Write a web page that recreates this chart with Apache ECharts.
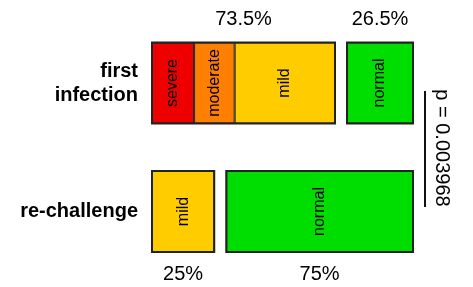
<!DOCTYPE html>
<html>
<head>
<meta charset="utf-8">
<script src="https://cdn.jsdelivr.net/npm/echarts@6/dist/echarts.min.js"></script>
<style>html,body{margin:0;padding:0;background:#fff}#c{width:473px;height:287px}</style>
</head>
<body>
<div id="c"></div>
<script>
// ---- data ----
var categories = ['first\ninfection', 're-challenge'];
var severe   = [16.9, null];
var moderate = [16.3, null];
var mild     = [40.3, 25];
var normal   = [26.5, 75];
var groupLabels = [
  // [startValue, endValue, categoryIndex, text, side]
  [0, 73.5, 0, '73.5%', 'top'],
  [73.5, 100, 0, '26.5%', 'top'],
  [0, 25, 1, '25%', 'bottom'],
  [25, 100, 1, '75%', 'bottom']
];
var pText = 'p = 0.003968';

// ---- styling / layout ----
var GAP = 4.82;  // visual gap between abnormal and normal groups (in axis units)
var BAR_W = 81;
var FONT = 'Liberation Sans, Arial, sans-serif';
var gapData = [GAP, GAP];

function barSeries(name, data, color) {
  return {
    name: name, type: 'bar', stack: 's', data: data, barWidth: BAR_W,
    itemStyle: { color: color, borderColor: '#222', borderWidth: 1 },
    label: { show: true, position: 'inside', rotate: 90, formatter: name,
             fontSize: 16, fontFamily: FONT, color: '#000' },
    silent: true
  };
}

function groupRange(d) {
  var s = d[0], e = d[1];
  if (d[0] > 0) { s += GAP; e += GAP; }  // normal group sits after the gap
  return [s, e];
}

var chart = echarts.init(document.getElementById('c'), null, { renderer: 'canvas' });
chart.setOption({
  animation: false,
  backgroundColor: '#fff',
  grid: { left: 152, right: 60, top: 18.75, bottom: 11.25, containLabel: false },
  xAxis: { type: 'value', min: 0, max: 100 + GAP, show: false },
  yAxis: {
    type: 'category', data: categories, inverse: true,
    axisLine: { show: false }, axisTick: { show: false }, splitLine: { show: false },
    axisLabel: { fontSize: 20, fontWeight: 'bold', fontFamily: FONT, color: '#000',
                 lineHeight: 24, margin: 14, align: 'right' }
  },
  series: [
    barSeries('severe', severe, '#ee0000'),
    barSeries('moderate', moderate, '#ff8000'),
    barSeries('mild', mild, '#ffcc00'),
    { name: 'gap', type: 'bar', stack: 's', data: gapData, barWidth: BAR_W,
      itemStyle: { color: 'rgba(0,0,0,0)' }, silent: true },
    barSeries('normal', normal, '#00dd00'),
    {
      type: 'custom', silent: true, z: 5,
      data: groupLabels,
      renderItem: function (params, api) {
        var d = groupLabels[params.dataIndex];
        var r = groupRange(d);
        var p0 = api.coord([r[0], d[2]]);
        var p1 = api.coord([r[1], d[2]]);
        var cx = (p0[0] + p1[0]) / 2;
        var off = d[4] === 'top' ? -63.5 : 62.5;
        return {
          type: 'group',
          children: [
            { type: 'rect',
              shape: { x: p0[0], y: p0[1] - BAR_W / 2, width: p1[0] - p0[0], height: BAR_W },
              style: { fill: null, stroke: '#222', lineWidth: 2 } },
            { type: 'text',
              style: { text: d[3], x: cx, y: p0[1] + off, textAlign: 'center',
                       textVerticalAlign: 'middle', fontSize: 20, fontFamily: FONT, fill: '#000' } }
          ]
        };
      }
    }
  ],
  graphic: [
    { type: 'line', shape: { x1: 425, y1: 91, x2: 425, y2: 207 },
      style: { stroke: '#111', lineWidth: 2 } },
    { type: 'text', x: 442, y: 148, rotation: -Math.PI / 2,
      style: { text: pText, fontSize: 20, fontFamily: FONT, fill: '#000',
               textAlign: 'center', textVerticalAlign: 'middle' } }
  ]
});
</script>
</body>
</html>
